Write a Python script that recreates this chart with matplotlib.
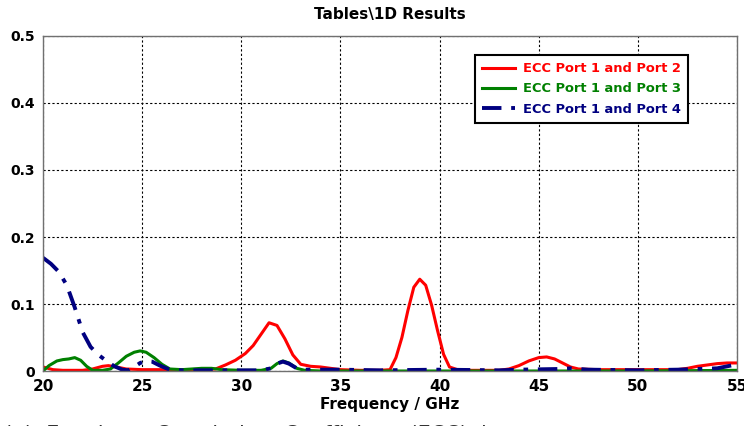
import matplotlib.pyplot as plt

# ECC curves (frequency in GHz, ECC value)
f12 = [20, 20.5, 21, 22, 22.5, 23, 23.3, 23.7, 24.2, 25, 26, 27, 28, 28.7, 29.2, 29.7,
       30.2, 30.6, 31.0, 31.4, 31.8, 32.2, 32.6, 33.0, 33.5, 34.0, 34.5, 35.0, 36, 37,
       37.5, 37.8, 38.1, 38.4, 38.7, 39.0, 39.3, 39.6, 39.9, 40.2, 40.5, 41, 42, 43,
       43.5, 44, 44.5, 45, 45.4, 45.8, 46.2, 46.6, 47, 48, 50, 52, 52.5, 53, 53.5, 54,
       54.5, 55]
ecc12 = [0.006, 0.002, 0.001, 0.001, 0.003, 0.007, 0.008, 0.006, 0.003, 0.002, 0.002,
         0.002, 0.002, 0.003, 0.009, 0.016, 0.026, 0.038, 0.055, 0.072, 0.068, 0.048,
         0.024, 0.010, 0.007, 0.006, 0.004, 0.002, 0.001, 0.001, 0.002, 0.020, 0.050,
         0.090, 0.125, 0.137, 0.128, 0.098, 0.060, 0.025, 0.006, 0.001, 0.001, 0.001,
         0.003, 0.008, 0.015, 0.020, 0.021, 0.018, 0.012, 0.006, 0.003, 0.002, 0.002,
         0.002, 0.004, 0.007, 0.009, 0.011, 0.012, 0.012]

f13 = [20, 20.3, 20.7, 21.0, 21.3, 21.6, 21.9, 22.2, 22.5, 23.0, 23.4, 23.8, 24.2, 24.6,
       24.9, 25.2, 25.6, 26.0, 26.4, 27.0, 27.5, 28.0, 28.5, 29.0, 30, 31, 31.5, 31.8,
       32.1, 32.4, 32.8, 33.2, 34, 36, 40, 45, 50, 55]
ecc13 = [0.0, 0.008, 0.015, 0.017, 0.018, 0.020, 0.016, 0.007, 0.001, 0.001, 0.003,
         0.012, 0.022, 0.028, 0.030, 0.028, 0.020, 0.010, 0.003, 0.002, 0.003, 0.004,
         0.004, 0.002, 0.001, 0.001, 0.004, 0.011, 0.015, 0.012, 0.004, 0.001, 0.0,
         0.0, 0.0, 0.0, 0.0, 0.001]

f14 = [20, 20.4, 20.8, 21.2, 21.6, 22.0, 22.4, 22.8, 23.2, 23.6, 24.0, 24.3, 24.6, 24.9,
       25.2, 25.5, 25.9, 26.3, 27, 28, 29, 30, 31, 31.5, 31.8, 32.1, 32.4, 32.8, 33.2,
       34, 35, 37, 40, 43, 44, 46, 46.6, 47.5, 50, 52, 53, 54, 54.5, 55]
ecc14 = [0.169, 0.160, 0.148, 0.128, 0.095, 0.058, 0.036, 0.024, 0.015, 0.007, 0.002,
         0.001, 0.006, 0.012, 0.015, 0.014, 0.008, 0.003, 0.001, 0.001, 0.001, 0.001,
         0.001, 0.004, 0.011, 0.014, 0.011, 0.004, 0.002, 0.002, 0.002, 0.001, 0.002,
         0.001, 0.002, 0.003, 0.004, 0.002, 0.001, 0.002, 0.003, 0.004, 0.007, 0.010]

labels = ['ECC Port 1 and Port 2', 'ECC Port 1 and Port 3', 'ECC Port 1 and Port 4']
colors = ['#ff0000', '#008000', '#000080']
narrow = ['Liberation Sans Narrow', 'DejaVu Sans']

fig = plt.figure(figsize=(7.44, 4.26), dpi=100)
ax = fig.add_axes([0.0578, 0.1291, 0.9328, 0.7864])

ax.plot(f12, ecc12, color=colors[0], lw=2.2, label=labels[0])
ax.plot(f13, ecc13, color=colors[1], lw=2.2, label=labels[1])
ax.plot(f14, ecc14, color=colors[2], lw=2.8, dashes=(5, 2.5, 1.2, 2.5), label=labels[2])

ax.set_xlim(20, 55)
ax.set_ylim(0, 0.5)
ax.set_xticks(range(20, 56, 5))
ax.set_yticks([0, 0.1, 0.2, 0.3, 0.4, 0.5])
ax.set_yticklabels(['0', '0.1', '0.2', '0.3', '0.4', '0.5'])
ax.grid(True, color='black', linestyle=(0, (2, 2)), lw=0.8)
for s in ax.spines.values():
    s.set_color('#707070')
    s.set_linewidth(1)
ax.tick_params(length=0, pad=6)

for t in ax.get_yticklabels():
    t.set_fontweight('bold')
    t.set_fontsize(10)
    t.set_family('DejaVu Sans')
for t in ax.get_xticklabels():
    t.set_fontweight('bold')
    t.set_fontsize(11)
    t.set_family(narrow)

ax.set_xlabel('Frequency / GHz', fontsize=11, fontweight='bold', family=narrow, labelpad=2)
ax.set_title('Tables\\1D Results', fontsize=11, fontweight='bold', family=narrow, pad=12)

leg = ax.legend(loc='upper right', bbox_to_anchor=(0.929, 0.943), borderaxespad=0,
                fancybox=False, framealpha=1, edgecolor='black',
                prop={'weight': 'bold', 'size': 9.4}, handlelength=2.5, borderpad=0.55,
                labelspacing=0.55, handletextpad=0.6)
leg.get_frame().set_linewidth(1.5)
for txt, c in zip(leg.get_texts(), colors):
    txt.set_color(c)

fig.text(0.005, 0.003, '(a)  Envelope  Correlation  Coefficient  (ECC)  b', fontsize=15,
         color='#333333', va='top', ha='left')

fig.savefig('out.png', dpi=100)
